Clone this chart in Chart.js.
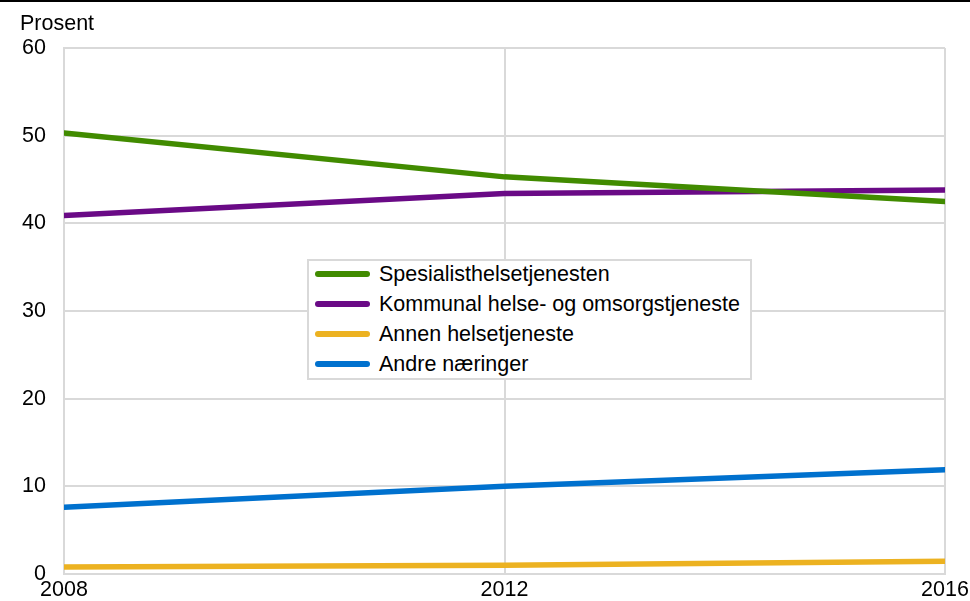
<!DOCTYPE html>
<html>
<head>
<meta charset="utf-8">
<script src="https://cdn.jsdelivr.net/npm/chart.js@4.4.1/dist/chart.umd.min.js"></script>
<style>
  html, body { margin: 0; padding: 0; background: #fff; }
  #wrap { position: relative; width: 970px; height: 601px; }
  #legend {
    position: absolute; left: 307px; top: 259px; width: 441px; height: 117px;
    border: 2px solid #d9d9d9; background: #fff;
    font-family: "Liberation Sans", Arial, sans-serif; font-size: 21.5px; color: #000;
    box-sizing: content-box;
  }
  .item { position: absolute; left: 6px; height: 24px; display: flex; align-items: center; }
  .swatch { width: 55px; height: 6px; border-radius: 3px; margin-right: 9px; }
</style>
</head>
<body>
<div id="wrap">
  <canvas id="chart" width="970" height="601"></canvas>
  <div id="legend"></div>
</div>
<script>
// Dataene lest av figuren
const years = [2008, 2012, 2016];
const spesialist = [50.3, 45.3, 42.5];
const kommunal = [40.9, 43.4, 43.8];
const annen = [0.8, 1.0, 1.45];
const andre = [7.6, 10.0, 11.9];

const seriesNames = ['Spesialisthelsetjenesten', 'Kommunal helse- og omsorgstjeneste', 'Annen helsetjeneste', 'Andre næringer'];
const seriesColors = ['#418b00', '#6a0a86', '#ecb221', '#0071ce'];
const seriesValues = [spesialist, kommunal, annen, andre];

const FONT = '"Liberation Sans", Arial, sans-serif';
const GRID = '#d9d9d9';

// Tekst og topplinje
const extras = {
  id: 'extras',
  beforeDraw(chart) {
    const ctx = chart.ctx;
    ctx.save();
    ctx.fillStyle = '#fff';
    ctx.fillRect(0, 0, chart.width, chart.height);
    ctx.fillStyle = '#000';
    ctx.fillRect(0, 0, chart.width, 2);
    ctx.font = '21.5px ' + FONT;
    ctx.textBaseline = 'alphabetic';
    ctx.fillText('Prosent', 20, 30);
    ctx.restore();
  }
};

const datasets = seriesValues.map((vals, i) => ({
  label: seriesNames[i],
  data: vals.map((v, j) => ({ x: years[j], y: v })),
  borderColor: seriesColors[i],
  backgroundColor: seriesColors[i],
  borderWidth: 5.5,
  pointRadius: 0,
  tension: 0,
  borderCapStyle: 'round'
}));

const chart = new Chart(document.getElementById('chart').getContext('2d'), {
  type: 'line',
  data: { datasets },
  plugins: [extras],
  options: {
    responsive: false,
    animation: false,
    layout: { padding: { top: 48, right: 0, left: 0, bottom: 0 } },
    plugins: { legend: { display: false }, tooltip: { enabled: false } },
    scales: {
      x: {
        type: 'linear',
        min: 2008, max: 2016,
        afterBuildTicks(scale) { scale.ticks = years.map(v => ({ value: v })); },
        afterFit(scale) { scale.height = 27; scale.paddingRight = 25; scale.paddingLeft = 0; },
        grid: { color: GRID, lineWidth: 2, drawTicks: false },
        border: { color: GRID, width: 2 },
        ticks: { color: '#000', font: { family: FONT, size: 21.5, lineHeight: 1 }, padding: 5, maxRotation: 0,
                 callback: v => String(v) }
      },
      y: {
        min: 0, max: 60,
        afterFit(scale) { scale.width = 64; scale.paddingBottom = 0; scale.paddingTop = 0; },
        grid: { color: GRID, lineWidth: 2, drawTicks: false },
        border: { color: GRID, width: 2 },
        ticks: { stepSize: 10, color: '#000', font: { family: FONT, size: 21.5, lineHeight: 1 }, padding: 18 }
      }
    }
  }
});

// Legende inne i plottet
const legendEl = document.getElementById('legend');
const rowTops = [1, 31, 61, 91];
seriesNames.forEach((name, i) => {
  const row = document.createElement('div');
  row.className = 'item';
  row.style.top = rowTops[i] + 'px';
  row.innerHTML = '<div class="swatch" style="background:' + seriesColors[i] + '"></div><span>' + name + '</span>';
  legendEl.appendChild(row);
});
</script>
</body>
</html>
